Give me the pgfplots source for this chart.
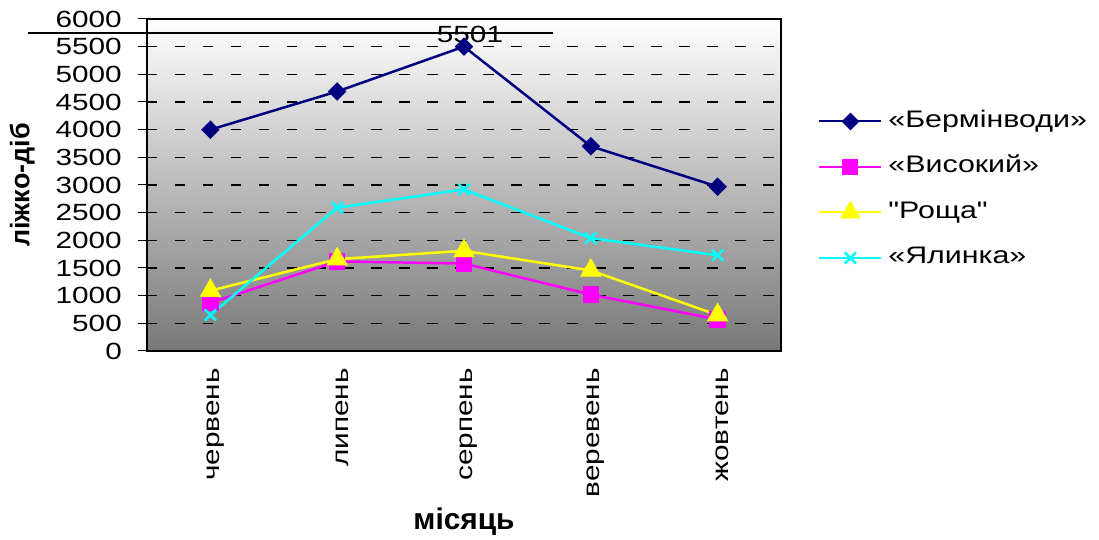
\documentclass[border=0pt]{standalone}
\usepackage{fontspec}
\setmainfont{Liberation Sans}
\newfontfamily\wide{Liberation Sans}[FakeStretch=1.27]
\usepackage{pgfplots}
\pgfplotsset{compat=1.18}
\definecolor{cnavy}{RGB}{0,0,128}
\definecolor{cmag}{RGB}{255,0,255}
\definecolor{cyel}{RGB}{255,255,0}
\definecolor{ccyan}{RGB}{0,255,255}
\begin{document}
\begin{tikzpicture}
\begin{axis}[
  scale only axis, width=634bp, height=332bp,
  xmin=-0.5, xmax=4.5, ymin=0, ymax=6000,
  axis background/.style={shade, top color=white, bottom color=black!53},
  axis line style={line width=1.5bp},
  ytick={0,500,...,6000},
  ymajorgrids,
  grid style={black, line width=1.1bp, dash pattern=on 10.5bp off 17.5bp},
  y tick label style={font=\wide\fontsize{23.5}{26}\selectfont, inner sep=0pt, xshift=-16bp},
  /pgf/number format/1000 sep={},
  /pgf/number format/assume math mode=true,
  ytick pos=left, xtick pos=bottom,
  tick align=outside,
  major tick length=9bp,
  xtick={0,1,2,3,4},
  xticklabels={червень,липень,серпень,веревень,жовтень},
  x tick label style={font=\wide\fontsize{23.5}{26}\selectfont, rotate=90, anchor=east, inner sep=0pt, xshift=-8bp, yshift=-5bp},
  x tick style={draw=none},
  minor xtick={-0.5,0.5,1.5,2.5,3.5,4.5},
  minor tick length=8bp,
  minor x tick style={black, line width=1bp},
  y tick style={black, line width=1bp},
  xlabel={\textbf{місяць}},
  xlabel style={font=\fontsize{30}{34}\selectfont, at={(axis description cs:0.5,-0.515)}, anchor=center},
  ylabel={\textbf{ліжко-діб}},
  ylabel style={font=\fontsize{27}{30}\selectfont, at={(axis description cs:-0.197,0.5)}, anchor=center, rotate=0},
  legend style={at={(axis description cs:1.054,0.731)}, anchor=north west, draw=none, fill=none,
    font=\wide\fontsize{24}{27}\selectfont, row sep=23.5bp, column sep=6bp,
    nodes={text height=17bp, text depth=5bp, inner sep=0pt, outer sep=0pt}},
  legend cell align=left,
  legend image code/.code={\draw[line width=2bp, mark repeat=2,mark phase=2] plot coordinates {(0bp,0bp) (31bp,0bp) (62bp,0bp)};},
]
\addplot[cnavy, line width=2.5bp, mark=diamond*, mark size=7.5bp, mark options={xscale=1.33, solid, fill=cnavy}]
  coordinates {(0,4000) (1,4690) (2,5501) (3,3700) (4,2970)};
\addlegendentry{«Бермінводи»}
\addplot[cmag, line width=2.5bp, mark=square*, mark size=7bp, mark options={solid, fill=cmag}]
  coordinates {(0,870) (1,1620) (2,1580) (3,1020) (4,570)};
\addlegendentry{«Високий»}
\addplot[cyel, line width=2.5bp, mark=triangle*, mark size=10bp, mark options={solid, fill=cyel}]
  coordinates {(0,1090) (1,1660) (2,1810) (3,1455) (4,650)};
\addlegendentry{\symbol{34}Роща\symbol{34}}
\addplot[ccyan, line width=2.5bp, mark=x, mark size=8bp, mark options={solid, line width=2.5bp}]
  coordinates {(0,650) (1,2590) (2,2920) (3,2040) (4,1730)};
\addlegendentry{«Ялинка»}
\node[font=\wide\fontsize{23.5}{26}\selectfont, anchor=center, xshift=6bp, yshift=12bp] at (axis cs:2,5501) {5501};
\end{axis}
\draw[line width=1.5bp] (-119bp,318bp) -- (406bp,318bp);
\path[use as bounding box] (-147bp,-185bp) rectangle (952bp,351bp);
\end{tikzpicture}
\end{document}
